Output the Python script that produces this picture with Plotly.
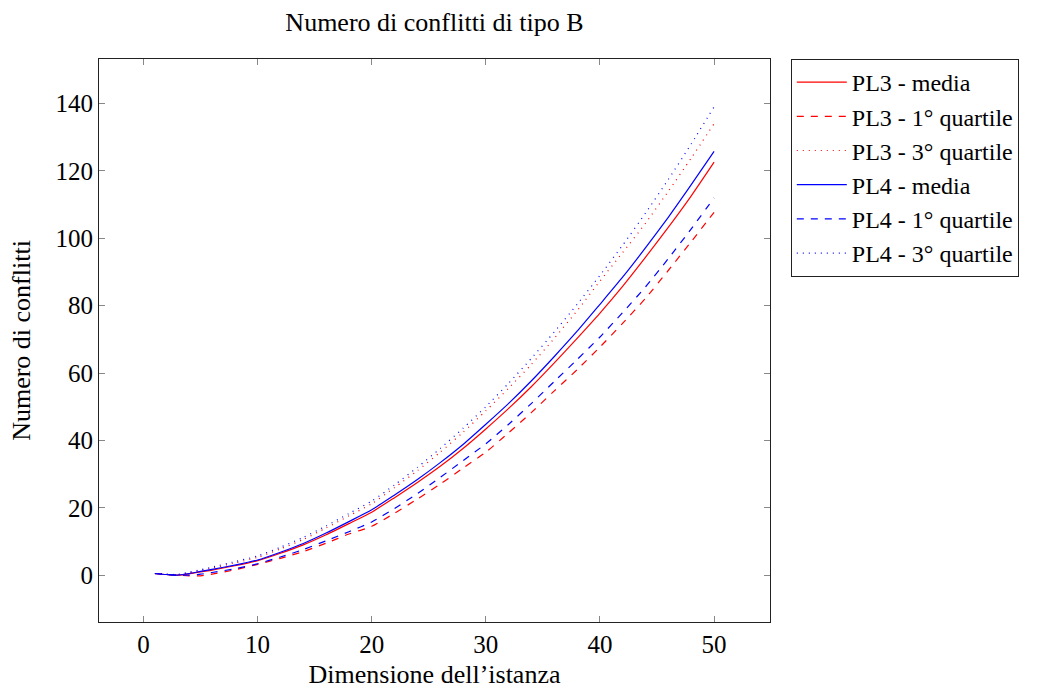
import plotly.graph_objects as go

x_vals = [1, 2, 3, 4, 5, 6, 8, 10, 12, 14, 16, 18, 20, 22, 24, 26, 28, 30, 32, 34, 36, 38, 40, 42, 44, 46, 48, 50]

pl3_media = [0.5, 0.2, 0.0, 0.4, 1.0, 1.5, 2.8, 4.3, 6.5, 9.0, 12.0, 15.3, 18.7, 23.0, 27.5, 32.3, 37.6, 43.4, 49.5, 56.0, 63.0, 70.3, 77.8, 85.8, 94.4, 103.3, 112.6, 122.6]
pl3_q1 = [0.5, 0.2, 0.0, -0.2, -0.2, 0.3, 1.6, 3.2, 5.0, 7.0, 9.5, 12.2, 14.5, 18.4, 22.6, 27.0, 31.8, 36.5, 42.3, 48.3, 54.7, 61.0, 67.7, 74.8, 82.2, 90.5, 99.0, 107.7]
pl3_q3 = [0.5, 0.3, 0.1, 0.7, 1.4, 2.1, 3.6, 5.3, 7.8, 10.6, 14.0, 17.6, 21.2, 26.0, 31.0, 36.5, 42.4, 48.8, 55.5, 62.6, 70.3, 78.5, 87.3, 95.8, 104.5, 114.0, 123.8, 134.0]
pl4_media = [0.5, 0.2, 0.0, 0.5, 1.1, 1.7, 3.0, 4.5, 6.8, 9.4, 12.5, 15.9, 19.4, 23.8, 28.4, 33.4, 38.8, 44.8, 51.0, 57.7, 64.9, 72.4, 80.4, 88.5, 97.2, 106.3, 115.9, 125.8]
pl4_q1 = [0.5, 0.2, 0.0, 0.0, 0.3, 0.8, 1.9, 3.4, 5.4, 7.6, 10.2, 12.9, 15.8, 19.8, 24.2, 29.0, 34.0, 39.0, 44.8, 51.0, 57.5, 64.0, 70.7, 78.0, 85.6, 94.0, 102.8, 112.0]
pl4_q3 = [0.5, 0.3, 0.2, 0.9, 1.6, 2.4, 4.0, 5.7, 8.3, 11.2, 14.6, 18.3, 22.0, 26.8, 32.0, 37.6, 43.6, 50.0, 57.0, 64.4, 72.2, 80.4, 89.0, 98.0, 107.5, 117.5, 128.0, 139.0]

series_names = ["PL3 - media", "PL3 - 1° quartile", "PL3 - 3° quartile",
                "PL4 - media", "PL4 - 1° quartile", "PL4 - 3° quartile"]
series_data = [pl3_media, pl3_q1, pl3_q3, pl4_media, pl4_q1, pl4_q3]
series_colors = ["red", "red", "red", "blue", "blue", "blue"]
series_dash = ["solid", "7px,7px", "1px,5px", "solid", "7px,7px", "1px,5px"]

x_ticks = [0, 10, 20, 30, 40, 50]
y_ticks = [0, 20, 40, 60, 80, 100, 120, 140]

FONT = "Liberation Serif"
TICK_SIZE = 25
TEXT_SIZE = 26
LEGEND_SIZE = 24

fig = go.Figure()
for name, data, color, dash in zip(series_names, series_data, series_colors, series_dash):
    fig.add_trace(go.Scatter(
        x=x_vals, y=data, name=name, mode="lines",
        line=dict(color=color, dash=dash, width=1.2, shape="spline", smoothing=0.6),
    ))

axis_common = dict(
    showline=True, linecolor="#222222", linewidth=1, mirror="ticks",
    ticks="inside", ticklen=6, tickcolor="#888888", tickwidth=1,
    showgrid=False, zeroline=False, automargin=False,
    tickfont=dict(family=FONT, size=TICK_SIZE, color="black"),
)

fig.update_layout(
    width=1053, height=689,
    paper_bgcolor="white", plot_bgcolor="white",
    margin=dict(l=99, r=283, t=59, b=67),
    font=dict(family=FONT, size=TEXT_SIZE, color="black"),
    title=dict(text="Numero di conflitti di tipo B", x=434.5 / 1053,
               xanchor="center", y=1 - 22 / 689, yanchor="middle",
               font=dict(family=FONT, size=TEXT_SIZE, color="black")),
    xaxis=dict(range=[-3.9, 54.9], tickvals=x_ticks, ticktext=[str(v) for v in x_ticks],
               title=dict(text="Dimensione dell’istanza", font=dict(family=FONT, size=TEXT_SIZE), standoff=8),
               **axis_common),
    yaxis=dict(range=[-13.9, 153.2], tickvals=y_ticks, ticktext=[str(v) for v in y_ticks],
               title=dict(text="Numero di conflitti", font=dict(family=FONT, size=TEXT_SIZE), standoff=17),
               **axis_common),
    legend=dict(x=1.031, y=1.0, xanchor="left", yanchor="top",
                bordercolor="#222222", borderwidth=1, bgcolor="white",
                font=dict(family=FONT, size=LEGEND_SIZE), tracegroupgap=0,
                itemwidth=50),
    showlegend=True,
)

fig.write_html("out.html")
